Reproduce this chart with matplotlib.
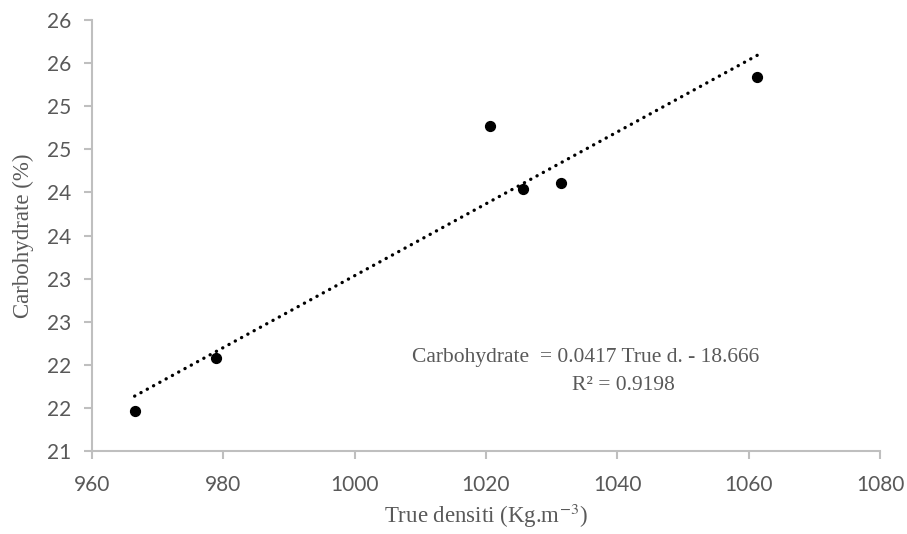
"""Carbohydrate vs true density scatter with linear trendline"""

import numpy as np
import matplotlib
matplotlib.use('Agg')
import matplotlib.pyplot as plt
from matplotlib.ticker import FuncFormatter, MultipleLocator

true_density = [966.5, 978.9, 1020.6, 1025.6, 1031.4, 1061.3]
carbohydrate = [21.46, 22.08, 24.77, 24.04, 24.11, 25.34]
SLOPE, INTERCEPT, R2 = 0.0417, -18.666, 0.9198

GRAY = '#595959'; AXIS_GRAY = '#BFBFBF'
TICK_FONT = 'Lato'; SERIF = 'Liberation Serif'
plt.rcParams['mathtext.fontset'] = 'stix'

fig = plt.figure(figsize=(9.07, 5.34), dpi=100)
ax = fig.add_axes([0.1014, 0.1554, 0.8688, 0.8071])

ax.scatter(true_density, carbohydrate, s=50, color='black', zorder=3)
xt = np.array([min(true_density), max(true_density)])
ax.plot(xt, SLOPE * xt + INTERCEPT, color='black', lw=2.4,
        linestyle=(0, (0.05, 2.1)), dash_capstyle='round', zorder=2)

ax.set_xlim(960, 1080); ax.set_ylim(21, 26)
ax.xaxis.set_major_locator(MultipleLocator(20))
ax.yaxis.set_major_locator(MultipleLocator(0.5))
ax.yaxis.set_major_formatter(FuncFormatter(lambda v, p: '%d' % np.floor(v + 0.5)))

for s in ['top', 'right']:
    ax.spines[s].set_visible(False)
for s in ['left', 'bottom']:
    ax.spines[s].set_color(AXIS_GRAY); ax.spines[s].set_linewidth(1.5)
ax.tick_params(direction='out', length=6, width=1.5, color=AXIS_GRAY,
               labelcolor=GRAY, labelsize=15, pad=9)
ax.tick_params(axis='x', pad=11)
for lab in ax.get_xticklabels() + ax.get_yticklabels():
    lab.set_family(TICK_FONT)

ax.set_xlabel('True densiti (Kg.m$^{-3}$)', family=SERIF, fontsize=16.5,
              color=GRAY, labelpad=5)
ax.set_ylabel('Carbohydrate (%)', family=SERIF, fontsize=16.5, color=GRAY,
              labelpad=9)

ax.text(1035.2, 22.09, 'Carbohydrate  = %.4f True d. - %.3f' % (SLOPE, -INTERCEPT),
        family=SERIF, fontsize=15.5, color=GRAY, ha='center', va='center')
ax.text(1040.9, 21.76, 'R² = %.4f' % R2, family=SERIF, fontsize=15.5,
        color=GRAY, ha='center', va='center')

plt.savefig('out.png', dpi=100)
